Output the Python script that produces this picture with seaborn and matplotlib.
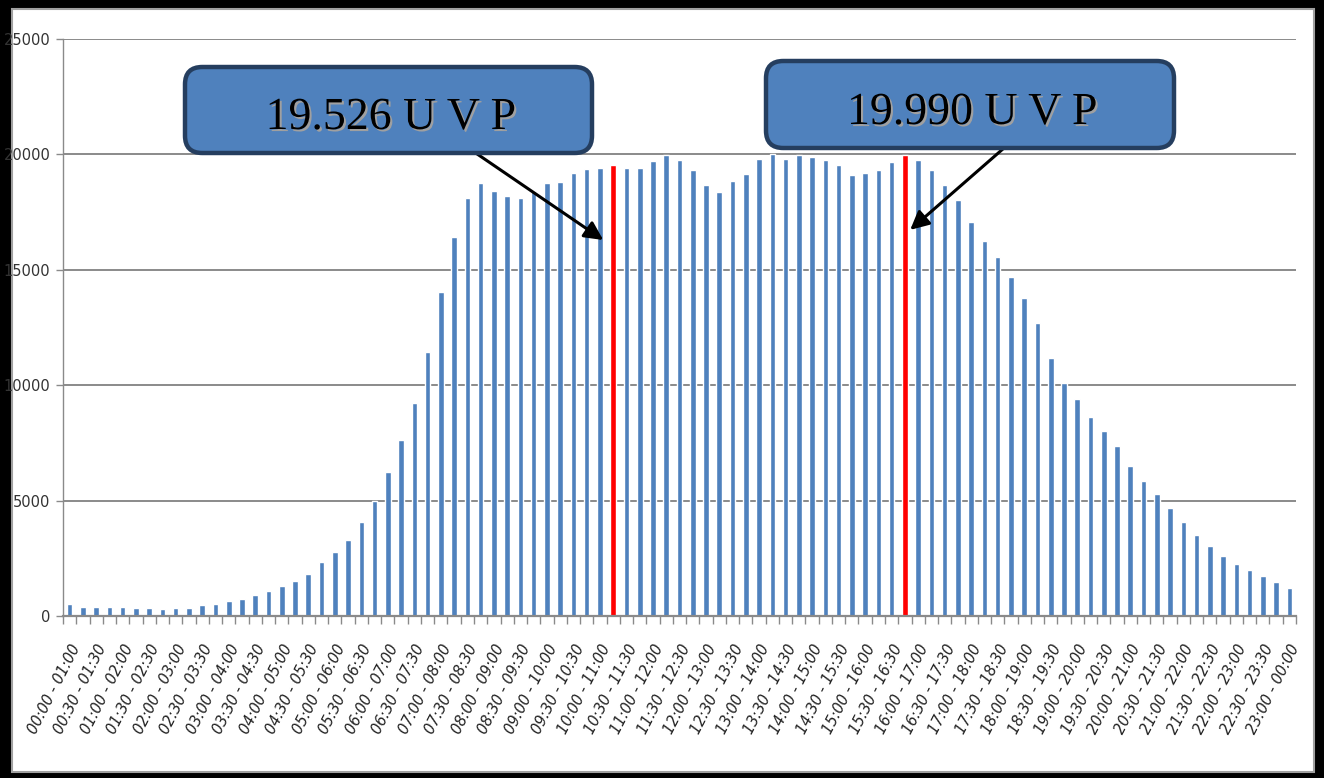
import matplotlib
matplotlib.use("Agg")
import matplotlib.pyplot as plt
import matplotlib.patheffects as pe
from matplotlib.patches import FancyBboxPatch, Rectangle
import seaborn as sns
import pandas as pd

# ---------------- data ----------------
start_minutes = list(range(0, 23 * 60 + 1, 15))
categories = [f"{m // 60:02d}:{m % 60:02d} - {((m + 60) % 1440) // 60:02d}:{(m + 60) % 60:02d}"
              for m in start_minutes]

values = [500, 400, 400, 400, 400, 350, 350, 290, 350, 350,
          460, 500, 640, 740, 900, 1070, 1290, 1500, 1840, 2330,
          2760, 3310, 4070, 4980, 6220, 7640, 9230, 11450, 14050, 16430,
          18130, 18750, 18400, 18190, 18130, 18430, 18750, 18800, 19180, 19380,
          19390, 19526, 19430, 19430, 19720, 19960, 19770, 19330, 18680, 18360,
          18840, 19170, 19820, 20020, 19820, 19990, 19880, 19770, 19560, 19120,
          19180, 19330, 19660, 19990, 19770, 19330, 18680, 18010, 17090, 16260,
          15540, 14680, 13780, 12680, 11190, 10110, 9390, 8640, 8030, 7370,
          6490, 5840, 5270, 4680, 4070, 3520, 3030, 2600, 2270, 1990,
          1720, 1490, 1210]

highlight_labels = ["10:15 - 11:15", "15:45 - 16:45"]
highlight_texts = ["19.526 U V P", "19.990 U V P"]
y_ticks = [0, 5000, 10000, 15000, 20000, 25000]

BLUE = "#4F81BD"
RED = "#FF0000"
GRID = "#8A8A8A"

df = pd.DataFrame({"interval": categories, "count": values})
palette = {c: (RED if c in highlight_labels else BLUE) for c in categories}

# ---------------- figure ----------------
sns.set_theme(style="white")
fig = plt.figure(figsize=(13.24, 7.78), dpi=100)
fig.patch.set_facecolor("black")
frame = Rectangle((0.0091, 0.0077), 0.9833, 0.9807, transform=fig.transFigure,
                  facecolor="white", edgecolor="#A0A0A0", linewidth=1.5, zorder=-10)
fig.add_artist(frame)

ax = fig.add_axes([63 / 1324, 1 - 616 / 778, (1296 - 63) / 1324, (616 - 39) / 778])
ax.set_zorder(1)
ax.patch.set_alpha(0)

sns.barplot(data=df, x="interval", y="count", hue="interval", palette=palette,
            dodge=False, width=0.42, saturation=1, legend=False, ax=ax, zorder=2)

ax.set_xlim(-0.5, len(categories) - 0.5)
ax.set_ylim(0, 25000)
ax.set_xlabel("")
ax.set_ylabel("")

# grid
ax.set_yticks(y_ticks)
ax.yaxis.grid(True, color=GRID, linewidth=1.4, zorder=0)
ax.set_axisbelow(True)
ax.set_yticklabels([str(v) for v in y_ticks], fontsize=10.5, color="#333333")
ax.tick_params(axis="y", length=5, width=1, color=GRID, pad=4, left=True)

# x ticks: labels every other category, tick marks on category boundaries
label_pos = list(range(0, len(categories), 2))
ax.set_xticks(label_pos)
ax.set_xticklabels([categories[i] for i in label_pos], rotation=63, ha="right",
                   rotation_mode="anchor", fontsize=10.5, style="italic", color="#222222")
ax.tick_params(axis="x", which="major", length=0, pad=19, bottom=True)
ax.set_xticks([i - 0.5 for i in range(len(categories) + 1)], minor=True)
ax.tick_params(axis="x", which="minor", length=6, width=1, color=GRID, bottom=True)

for s in ["top", "right"]:
    ax.spines[s].set_visible(False)
ax.spines["left"].set_color(GRID)
ax.spines["left"].set_linewidth(1.0)
ax.spines["bottom"].set_color(GRID)
ax.spines["bottom"].set_linewidth(1.6)

# ---------------- callouts ----------------
axw, axh = 1233, 577
aspect = axw / axh
boxes = [  # (x0, y_top, width, height, text baseline) in figure pixels
    (185, 67, 407, 86, 129),
    (766, 61, 408, 87, 124),
]
arrows = [  # (start_idx, start_val, tip_idx, tip_val)
    (30.3, 20190, 40.25, 16290),
    (71.4, 20740, 63.4, 16730),
]

for k, (bx, by, bw, bh, base) in enumerate(boxes):
    sx, sy, tx, ty = arrows[k]
    ax.annotate("", xy=(tx, ty), xytext=(sx, sy),
                arrowprops=dict(arrowstyle="-|>", color="black", lw=2.2,
                                mutation_scale=28, shrinkA=0, shrinkB=0),
                zorder=4, annotation_clip=False)
    x0 = (bx - 63) / axw
    y0 = (616 - (by + bh)) / axh
    patch = FancyBboxPatch((x0, y0), bw / axw, bh / axh,
                           boxstyle="round,pad=0,rounding_size=0.014",
                           mutation_aspect=aspect, transform=ax.transAxes,
                           facecolor=BLUE, edgecolor="#253E5F", linewidth=3.2,
                           zorder=5, clip_on=False)
    ax.add_patch(patch)
    ax.text(x0 + bw / axw / 2 + 0.002, (616 - base) / axh, highlight_texts[k],
            transform=ax.transAxes, ha="center", va="baseline",
            family=["Liberation Serif", "DejaVu Serif"], fontsize=33, color="black",
            zorder=6,
            path_effects=[pe.withSimplePatchShadow(offset=(1.5, -1.5),
                                                   shadow_rgbFace="#A0A0A0", alpha=1.0)])

fig.savefig("out.png", dpi=100, facecolor=fig.get_facecolor())
